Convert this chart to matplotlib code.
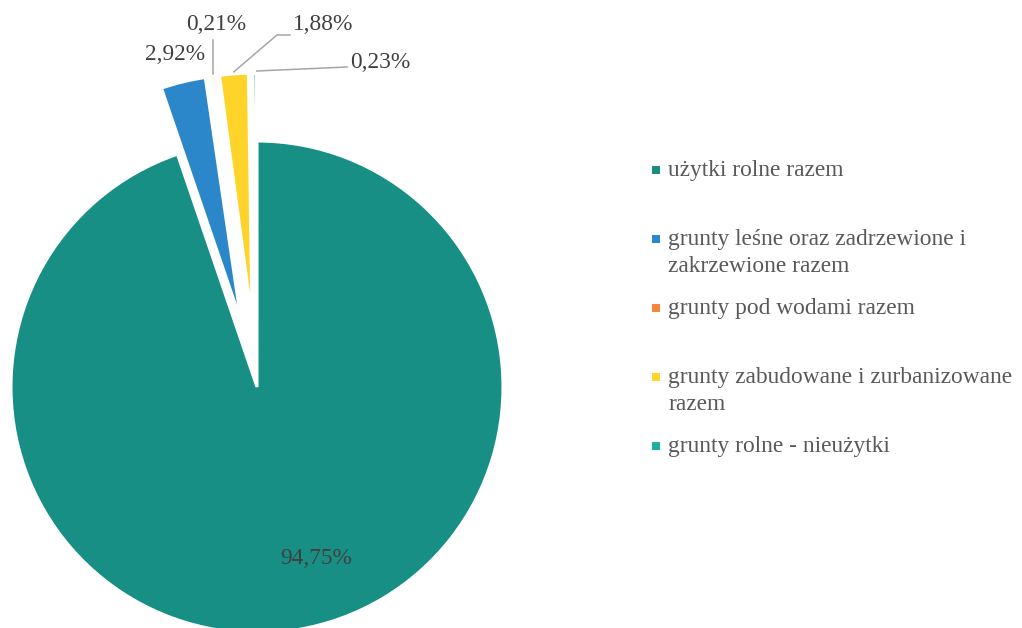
#!/usr/bin/env python3
"""
Pie chart of land-use structure (share of area by land category)
"""

import matplotlib.pyplot as plt
import numpy as np

# Data
categories = [
    "użytki rolne razem",
    "grunty leśne oraz zadrzewione i\nzakrzewione razem",
    "grunty pod wodami razem",
    "grunty zabudowane i zurbanizowane\nrazem",
    "grunty rolne - nieużytki",
]
shares = [94.75, 2.92, 0.21, 1.88, 0.23]
value_labels = ["94,75%", "2,92%", "0,21%", "1,88%", "0,23%"]
colors = ["#178F85", "#2C86CA", "#F7853A", "#FFD42A", "#1FAFA2"]
pulled_out = [False, True, True, True, True]

W, H = 1022, 628


def py(y):
    """pixel row (from top) -> data y"""
    return H - y


def wedge_tip(w, gap=2.0):
    """point just outside the middle of a wedge's outer arc"""
    mid = np.deg2rad(0.5 * (w.theta1 + w.theta2))
    cx, cy = w.center
    r = w.r + gap
    return cx + r * np.cos(mid), cy + r * np.sin(mid)


def main():
    fig = plt.figure(figsize=(W / 100, H / 100), dpi=100)
    ax = fig.add_axes([0, 0, 1, 1])

    radius = 246
    center = (257, py(387))
    explode = [68 if p else 0 for p in pulled_out]

    wedges, _ = ax.pie(shares, colors=colors, explode=explode, radius=radius,
                       center=center, startangle=90, counterclock=False,
                       wedgeprops=dict(edgecolor="white", linewidth=2.2))

    ax.set_xlim(0, W)
    ax.set_ylim(0, H)
    ax.set_aspect("equal")
    ax.axis("off")

    serif = ["Liberation Serif", "DejaVu Serif"]
    fs = 16.8
    lab_col = "#404040"
    lead_col = "#A6A6A6"

    # big slice label inside
    ax.text(316, py(558), value_labels[0], ha="center", va="center",
            fontsize=fs, family=serif, color=lab_col)

    # 2,92% - no leader
    ax.text(205, py(55), value_labels[1], ha="right", va="center",
            fontsize=fs, family=serif, color=lab_col)

    # 0,21% - vertical leader
    x0, y0 = wedge_tip(wedges[2])
    ax.plot([x0, x0], [y0, py(40)], color=lead_col, lw=1.1)
    ax.text(x0 + 3, py(24), value_labels[2], ha="center", va="center",
            fontsize=fs, family=serif, color=lab_col)

    # 1,88% - bent leader
    x0, y0 = wedge_tip(wedges[3])
    ax.plot([x0, 277, 290], [y0, py(35), py(35)], color=lead_col, lw=1.1)
    ax.text(293, py(24), value_labels[3], ha="left", va="center",
            fontsize=fs, family=serif, color=lab_col)

    # 0,23% - straight leader
    x0, y0 = wedge_tip(wedges[4])
    ax.plot([x0 + 2, 347], [y0, py(67)], color=lead_col, lw=1.1)
    ax.text(350, py(62), value_labels[4], ha="left", va="center",
            fontsize=fs, family=serif, color=lab_col)

    # legend drawn by hand
    leg_col = "#595959"
    first_row = 170
    row_step = 69
    line_step = 27
    for i, (name, col) in enumerate(zip(categories, colors)):
        y = first_row + i * row_step
        ax.scatter([656], [py(y)], marker="s", s=36, color=col, linewidths=0)
        for k, line in enumerate(name.split("\n")):
            ax.text(668, py(y + k * line_step + 6), line, ha="left",
                    va="baseline", fontsize=fs, family=serif, color=leg_col)

    fig.savefig("out.png", dpi=100)
    plt.close(fig)


if __name__ == "__main__":
    main()
